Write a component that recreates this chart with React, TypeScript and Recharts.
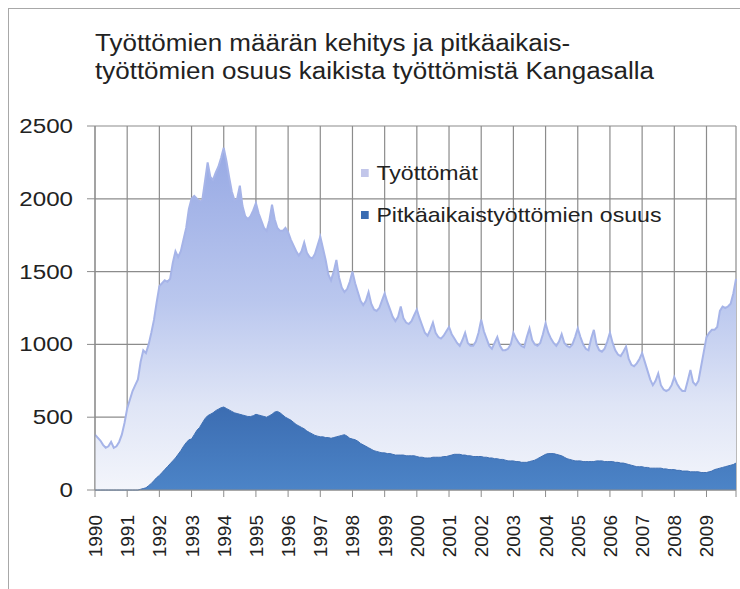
import { AreaChart, Area, XAxis, YAxis, CartesianGrid } from 'recharts'

const years = [
  1990, 1991, 1992, 1993, 1994, 1995, 1996, 1997, 1998, 1999,
  2000, 2001, 2002, 2003, 2004, 2005, 2006, 2007, 2008, 2009,
]

// Työttömät, monthly Jan..Dec per row
const tyottomat = [
  380, 360, 340, 310, 290, 300, 330, 290, 300, 330, 380, 460, // 1990
  560, 620, 680, 720, 760, 880, 960, 940, 1000, 1080, 1170, 1290, // 1991
  1400, 1420, 1440, 1430, 1450, 1560, 1640, 1600, 1640, 1720, 1800, 1930, // 1992
  2000, 2020, 2000, 1980, 1990, 2120, 2250, 2150, 2130, 2180, 2220, 2280, // 1993
  2350, 2260, 2150, 2050, 1990, 2000, 2090, 1950, 1880, 1860, 1880, 1920, // 1994
  1970, 1900, 1850, 1800, 1780, 1850, 1960, 1860, 1800, 1780, 1780, 1800, // 1995
  1770, 1720, 1680, 1640, 1610, 1640, 1700, 1630, 1600, 1590, 1620, 1680, // 1996
  1740, 1660, 1580, 1480, 1440, 1500, 1580, 1460, 1390, 1360, 1380, 1430, // 1997
  1500, 1420, 1360, 1300, 1270, 1300, 1360, 1280, 1240, 1230, 1250, 1300, // 1998
  1350, 1290, 1240, 1190, 1160, 1190, 1260, 1180, 1150, 1140, 1160, 1200, // 1999
  1240, 1180, 1130, 1080, 1060, 1100, 1150, 1080, 1050, 1040, 1060, 1090, // 2000
  1120, 1070, 1040, 1010, 990, 1030, 1080, 1010, 990, 990, 1020, 1080, // 2001
  1170, 1090, 1040, 990, 970, 1010, 1050, 990, 960, 960, 970, 1000, // 2002
  1080, 1040, 1010, 990, 980, 1050, 1110, 1030, 1000, 990, 1010, 1070, // 2003
  1145, 1080, 1040, 1010, 990, 1020, 1070, 1010, 990, 980, 1000, 1050, // 2004
  1110, 1050, 1000, 970, 960, 1040, 1100, 1000, 960, 950, 970, 1020, // 2005
  1080, 1010, 960, 930, 920, 950, 985, 900, 860, 850, 870, 900, // 2006
  940, 880, 820, 760, 720, 750, 800, 720, 690, 680, 690, 720, // 2007
  775, 730, 700, 680, 680, 750, 825, 740, 720, 750, 850, 950, // 2008
  1050, 1080, 1100, 1100, 1120, 1230, 1260, 1250, 1260, 1280, 1350, 1450, // 2009
]

// Pitkäaikaistyöttömien osuus, monthly Jan..Dec per row
const pitkaaikaiset = [
  0, 0, 0, 0, 0, 0, 0, 0, 0, 0, 0, 0, // 1990
  0, 0, 0, 0, 0, 5, 10, 15, 30, 45, 65, 85, // 1991
  100, 120, 140, 160, 180, 200, 220, 245, 270, 300, 325, 345, // 1992
  350, 380, 410, 430, 460, 490, 510, 520, 530, 545, 555, 565, // 1993
  570, 560, 550, 540, 530, 525, 520, 515, 510, 505, 505, 510, // 1994
  520, 515, 510, 505, 500, 510, 520, 535, 540, 530, 515, 500, // 1995
  490, 480, 465, 450, 440, 430, 420, 405, 395, 385, 375, 370, // 1996
  365, 365, 360, 360, 355, 360, 365, 370, 375, 380, 370, 355, // 1997
  350, 345, 335, 320, 310, 300, 290, 280, 270, 265, 260, 255, // 1998
  255, 250, 250, 245, 240, 240, 240, 240, 235, 235, 235, 235, // 1999
  230, 225, 225, 220, 220, 220, 225, 225, 225, 225, 230, 230, // 2000
  235, 240, 245, 245, 245, 240, 240, 235, 235, 230, 230, 230, // 2001
  230, 225, 225, 220, 220, 215, 215, 210, 210, 205, 200, 200, // 2002
  200, 195, 195, 190, 190, 190, 195, 200, 205, 215, 225, 235, // 2003
  245, 250, 250, 250, 245, 240, 235, 225, 215, 210, 205, 200, // 2004
  200, 200, 195, 195, 195, 195, 195, 200, 200, 200, 195, 195, // 2005
  195, 195, 190, 190, 185, 185, 180, 175, 170, 165, 160, 160, // 2006
  160, 155, 155, 150, 150, 150, 150, 150, 145, 145, 140, 140, // 2007
  140, 135, 135, 130, 130, 130, 125, 125, 125, 125, 120, 120, // 2008
  120, 125, 130, 140, 145, 150, 155, 160, 165, 170, 175, 185, // 2009
]

const yTicks = [0, 500, 1000, 1500, 2000, 2500]

const data = tyottomat.map((v, i) => ({ i, total: v, long: pitkaaikaiset[i] }))
const xTicks = [...years.map((_, k) => k * 12), data.length - 1]

const FONT = 'Arial, "Liberation Sans", sans-serif'
const GRID = '#8c8c8c'

const XTick = (props: any) => {
  const { x, y, payload } = props
  const label = years[payload.value / 12]
  if (!label) return null
  return (
    <text
      transform={`translate(${x + 7},${y}) rotate(-90)`}
      textAnchor="end"
      fontSize={19}
      fontFamily={FONT}
      fill="#222"
    >
      {label}
    </text>
  )
}

const YTick = (props: any) => {
  const { x, y, payload } = props
  return (
    <text
      transform={`translate(${x},${y + 7}) scale(1.15,1)`}
      textAnchor="end"
      fontSize={21}
      fontFamily={FONT}
      fill="#222"
    >
      {payload.value}
    </text>
  )
}

export default function App() {
  return (
    <div style={{ position: 'absolute', left: 0, top: 0, width: 740, height: 589, background: '#fff', overflow: 'hidden', fontFamily: FONT }}>
      <div style={{ position: 'absolute', left: 8, top: 8, width: 760, height: 620, borderLeft: '1.5px solid #a8a8a8', borderTop: '1.5px solid #a8a8a8' }} />
      <div style={{ position: 'absolute', left: 95, top: 29, fontSize: 23, lineHeight: '28px', color: '#222', transform: 'scaleX(1.13)', transformOrigin: 'left top', whiteSpace: 'nowrap' }}>
        Työttömien määrän kehitys ja pitkäaikais-
        <br />
        työttömien osuus kaikista työttömistä Kangasalla
      </div>

      <AreaChart
        width={740}
        height={589}
        data={data}
        margin={{ top: 126, right: 4, left: 35, bottom: 19 }}
        style={{ position: 'absolute', left: 0, top: 0 }}
      >
        <defs>
          <linearGradient id="gTotal" x1="0" y1="0" x2="0" y2="1">
            <stop offset="0%" stopColor="#97a9e4" />
            <stop offset="45%" stopColor="#bac7ee" />
            <stop offset="75%" stopColor="#dfe5f6" />
            <stop offset="100%" stopColor="#f3f5fb" />
          </linearGradient>
          <linearGradient id="gLong" x1="0" y1="0" x2="0" y2="1">
            <stop offset="0%" stopColor="#3c6db2" />
            <stop offset="100%" stopColor="#4c84c7" />
          </linearGradient>
        </defs>
        <CartesianGrid stroke={GRID} strokeWidth={1.2} />
        <XAxis
          dataKey="i"
          type="number"
          domain={[0, data.length - 1]}
          ticks={xTicks}
          interval={0}
          height={80}
          tickSize={7}
          tickMargin={18}
          stroke={GRID}
          tick={<XTick />}
        />
        <YAxis
          domain={[0, 2500]}
          ticks={yTicks}
          width={60}
          tickSize={8}
          tickMargin={14}
          stroke={GRID}
          tick={<YTick />}
        />
        <Area
          type="linear"
          dataKey="total"
          stroke="#a6b4e8"
          strokeWidth={2}
          fill="url(#gTotal)"
          fillOpacity={1}
          isAnimationActive={false}
        />
        <Area
          type="linear"
          dataKey="long"
          stroke="#3f70b4"
          strokeWidth={1}
          fill="url(#gLong)"
          fillOpacity={1}
          isAnimationActive={false}
        />
      </AreaChart>

      <div style={{ position: 'absolute', left: 361, top: 160, fontSize: 21, color: '#222', lineHeight: '26px', transform: 'scaleX(1.1)', transformOrigin: 'left top', whiteSpace: 'nowrap' }}>
        <div style={{ display: 'flex', alignItems: 'center' }}>
          <span style={{ width: 7, height: 8, background: '#c2c6ea', marginRight: 7, display: 'inline-block' }} />
          Työttömät
        </div>
        <div style={{ display: 'flex', alignItems: 'center', marginTop: 16 }}>
          <span style={{ width: 7, height: 8, background: '#3a6cb2', marginRight: 7, display: 'inline-block' }} />
          Pitkäaikaistyöttömien osuus
        </div>
      </div>
    </div>
  )
}
